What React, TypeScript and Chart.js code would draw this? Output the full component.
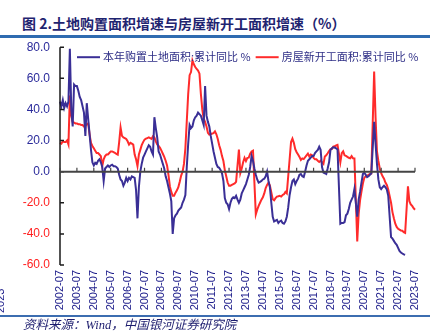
import React, { useEffect, useRef } from 'react';
import { Chart, registerables } from 'chart.js';

Chart.register(...registerables);

const TITLE = '图 2.土地购置面积增速与房屋新开工面积增速（%）';
const SOURCE = '资料来源：Wind，中国银河证券研究院';
const SERIES_NAMES = ['本年购置土地面积:累计同比 %', '房屋新开工面积:累计同比 %'];
const SERIES_COLORS = ['#3a2f96', '#ff2b2b'];

// Monthly categories, 2002-07 .. 2023-07
const START_YEAR = 2002;
const START_MONTH = 7;
const MONTH_COUNT = 253;
const months: string[] = [];
for (let i = 0; i < MONTH_COUNT; i++) {
  const t = START_YEAR * 12 + (START_MONTH - 1) + i;
  months.push(`${Math.floor(t / 12)}-${String((t % 12) + 1).padStart(2, '0')}`);
}

const Y_MIN = -60;
const Y_MAX = 80;
const Y_STEP = 20;

// 本年购置土地面积:累计同比 (%), rows = Jul..Jun
const landPurchase: (number | null)[] = [
  45, 42, 46, 41, 44, 42, 45, 79, 40, 29, 56, 55,
  55, 52, 48, 46, 42, 38, 23, 44, 34, 24, 14, 6,
  4, 5.7, 5, 7, 8, 6, 3, -6, 2, 3, 4, 3,
  4, 4.5, 3.5, 3.5, 3, 2, -2, -5, -6, -9, -7, -4,
  -6, -4, -5, -3, -3.5, -4, -12, -30, -10, 0, 5, 9,
  11, 13, 15, 17, 16, 13, 11, 35, 28, 22, 13, 11,
  8, 5, 2, -3, -6, -10, -14, -19, -40, -30, -28, -27,
  -25, -24, -23, -20, -18, -15, 3, 18, 30, 28, 29, 33,
  35, 36, 38, 37, 36, 33, 30, 55, 36, 32, 29, 23,
  18, 13, 9, 5, 3, 2.5, 1, -1, -6, -17, -20, -21,
  -24, -20, -17.5, -16.5, -17, -15.5, -18, -20, -18, -14, -12, -10,
  -8, -5, -2, 3, 10, 7, 2, -2, -5, -7, -6.5, -6,
  -5, -4.5, -3, 0, -6, -10, -20, -29, -32, -31.5, -31, -33,
  -32, -31.5, -33, -33.5, -32, -29, -23, -15, -10, -6, -5, -8,
  -6, -4.5, -2, -1.5, -3, -3.5, 0, 4, 7, 8, 9, 10,
  10, 12, 13, 14, 16, 14, 3, -0.6, -1, -1.5, 2, 6,
  14, 15, 15.7, 15.5, 15, 14.2, null, -33.5, -33, -33, -32.5, -28,
  -27, -24, -20, -18, -16, -11.2, null, -29, -18, -13, -7, -1.5,
  -0.6, -2, -3.5, -3, -2, -1.1, null, 32, 18, 5, -5, -10,
  -11.2, -10, -9, -10, -11.5, -15.5, null, -42, -43, -44.5, -46, -47,
  -49, -51, -52, -52.6, -53.2, -53.4, null, null, null, null, null, null, null,
];

// 房屋新开工面积:累计同比 (%), rows = Jul..Jun
const newStarts: (number | null)[] = [
  18.5, 18, 19.5, 19, 19, 20, 17.4, 49, 36, 32, 31.5, 31,
  31, 30.5, 30.5, 30, 30, 29, 29.5, 30.5, 31, 24, 18.5, 16.5,
  15, 13.5, 12, 12, 11, 10, 3.6, 7.9, 10, 11, 11, 12,
  13, 13, 12.5, 12, 11.5, 11, 19, 28.4, 23, 22, 21.6, 21,
  19.5, 17.4, 18.5, 18, 17.4, 11, 8, 3.6, 11, 14, 17, 19,
  20.6, 21.2, 21.6, 22, 21.5, 21, 22.7, 22, 19.5, 17.5, 16.5, 15.3,
  13.5, 11.5, 9.5, 7, 4, -2, -9.5, -13, -15.5, -15.5, -13.5, -12,
  -10, -6.5, -2.5, 0, 5, 15, null, 50, 62, 64, 71.5, 69,
  67.3, 66, 65, 63, 50, 40, 34, 32, 29, 25, 23.8, 24,
  24.5, 24.8, 25.9, 24, 21, 17, 14, 10, 6.8, 1, -3, -7,
  -9, -9, -8.5, -8, -7.6, -6.5, null, 14.2, -1, 2, 6, 8.9,
  6.8, 8.9, 9, 11.5, 13, 13.5, null, -27.5, -24.5, -22, -20, -18,
  -16.5, -14, -10.5, -8.5, -7, -9, null, -17.7, -18.4, -17, -16, -15.8,
  -15.5, -16, -15, -14.5, -13, -14, null, 8, 19, 21.2, 18.5, 14.5,
  12.5, 11, 9.5, 7.5, 8.5, 8.1, null, 10.4, 11.6, 9.7, 11, 10.5,
  8.9, 7.9, 7.9, 7, 6.2, 7, null, 5, 9.7, 10.5, 11.8, 13.2,
  14.4, 14.5, 16.1, 16.3, 16.8, 17.2, null, 6, 11.9, 13.1, 10.5, 10.1,
  9.5, 8.9, 8.6, 10, 8.6, 8.5, null, -44.9, -27.2, -18.4, -12.8, -7.6,
  -4, -3, -2.5, -2, -1.5, -1.2, null, 64.3, 35, 13, 6.9, 2,
  -1, -3, -4.5, -7, -8.5, -11.4, null, -20, -26, -30, -33.5, -35.5,
  -36.7, -37.3, -37.8, -38, -38.9, -39.4, null, -9.4, -19, -21, -22, -23.5, -24.5,
];

const axisPlugin = {
  id: 'customAxes',
  afterDatasetsDraw(chart: any) {
    const { ctx, chartArea, scales } = chart;
    const x = scales.x;
    const y = scales.y;
    ctx.save();
    // vertical value axis with inner ticks
    ctx.strokeStyle = '#1a1a1a';
    ctx.lineWidth = 1.5;
    ctx.beginPath();
    ctx.moveTo(chartArea.left, chartArea.top);
    ctx.lineTo(chartArea.left, chartArea.bottom);
    y.ticks.forEach((t: any) => {
      const py = y.getPixelForValue(t.value);
      ctx.moveTo(chartArea.left, py);
      ctx.lineTo(chartArea.left + 4, py);
    });
    ctx.stroke();
    // category axis at zero with upward ticks
    const y0 = y.getPixelForValue(0);
    ctx.strokeStyle = '#444444';
    ctx.lineWidth = 2;
    ctx.beginPath();
    ctx.moveTo(chartArea.left, y0);
    ctx.lineTo(chartArea.right, y0);
    ctx.stroke();
    ctx.lineWidth = 1.2;
    ctx.beginPath();
    x.ticks.forEach((t: any) => {
      const px = x.getPixelForValue(t.value);
      ctx.moveTo(px, y0);
      ctx.lineTo(px, y0 - 4);
    });
    ctx.stroke();
    ctx.restore();
  },
};

const legendPlugin = {
  id: 'insideLegend',
  afterDraw(chart: any) {
    const { ctx, chartArea } = chart;
    ctx.save();
    ctx.font = '11px "Noto Sans CJK SC", sans-serif';
    ctx.textBaseline = 'middle';
    ctx.textAlign = 'left';
    let px = chartArea.left + 17;
    const py = chartArea.top + 10;
    chart.data.datasets.forEach((ds: any) => {
      ctx.strokeStyle = ds.borderColor;
      ctx.lineWidth = 2;
      ctx.beginPath();
      ctx.moveTo(px, py);
      ctx.lineTo(px + 23, py);
      ctx.stroke();
      px += 26;
      ctx.fillStyle = '#2e2e86';
      ctx.fillText(ds.label, px, py);
      px += ctx.measureText(ds.label).width + 5;
    });
    ctx.restore();
  },
};

function LineChart() {
  const ref = useRef<HTMLCanvasElement | null>(null);
  useEffect(() => {
    if (!ref.current) return;
    const chart = new Chart(ref.current, {
      type: 'line',
      data: {
        labels: months,
        datasets: [
          {
            label: SERIES_NAMES[0],
            data: landPurchase,
            borderColor: SERIES_COLORS[0],
            borderWidth: 2,
            pointRadius: 0,
            tension: 0,
            spanGaps: true,
          },
          {
            label: SERIES_NAMES[1],
            data: newStarts,
            borderColor: SERIES_COLORS[1],
            borderWidth: 2,
            pointRadius: 0,
            tension: 0,
            spanGaps: true,
          },
        ],
      },
      options: {
        responsive: false,
        animation: false,
        devicePixelRatio: 1,
        layout: { padding: { left: 0, right: 20, top: 15, bottom: 0 } },
        plugins: {
          legend: { display: false },
          tooltip: { enabled: false },
        },
        scales: {
          x: {
            type: 'category',
            offset: false,
            grid: { display: false, drawTicks: false },
            border: { display: false },
            afterBuildTicks: (axis: any) => {
              axis.ticks = axis.ticks.filter((t: any) => months[t.value].endsWith('-07'));
            },
            afterFit: (scale: any) => {
              scale.height = 51;
            },
            ticks: {
              autoSkip: false,
              minRotation: 90,
              maxRotation: 90,
              padding: 5,
              color: '#20208c',
              font: { family: '"Liberation Sans", Arial, sans-serif', size: 11 },
              callback: function (this: any, value: any) {
                return months[value as number];
              },
            },
          },
          y: {
            min: Y_MIN,
            max: Y_MAX,
            grid: { display: false, drawTicks: false },
            border: { display: false },
            afterFit: (scale: any) => {
              scale.width = 60;
            },
            ticks: {
              stepSize: Y_STEP,
              padding: 10,
              color: (c: any) => (c.tick && c.tick.value < 0 ? '#ff1f1f' : '#2b2b9b'),
              font: { family: '"Liberation Sans", Arial, sans-serif', size: 12 },
              callback: (v: any) => Number(v).toFixed(1),
            },
          },
        },
      },
      plugins: [axisPlugin, legendPlugin],
    });
    return () => chart.destroy();
  }, []);
  return (
    <canvas
      ref={ref}
      width={435}
      height={286}
      style={{ position: 'absolute', left: 0, top: 30, width: 435, height: 286 }}
    />
  );
}

export default function App() {
  return (
    <div
      style={{
        position: 'absolute',
        left: 0,
        top: 0,
        width: 435,
        height: 332,
        background: '#ffffff',
        overflow: 'hidden',
      }}
    >
      <div
        style={{
          position: 'absolute',
          left: 22,
          top: 13,
          fontFamily: '"Noto Sans CJK SC", sans-serif',
          fontSize: 14,
          fontWeight: 700,
          lineHeight: '20px',
          color: '#1f2470',
          whiteSpace: 'nowrap',
        }}
      >
        {TITLE}
      </div>
      <div style={{ position: 'absolute', left: 0, top: 35, width: 430, height: 2.5, background: '#2f6bb0' }} />
      <LineChart />
      <div style={{ position: 'absolute', left: 0, top: 315, width: 430, height: 1.5, background: '#3c6db0' }} />
      <div
        style={{
          position: 'absolute',
          left: -6,
          top: 313,
          width: 40,
          height: 12,
          lineHeight: '12px',
          fontFamily: '"Liberation Sans", Arial, sans-serif',
          fontSize: 11,
          color: '#20208c',
          transform: 'rotate(-90deg)',
          transformOrigin: 'left top',
          whiteSpace: 'nowrap',
        }}
      >
        2023
      </div>
      <div
        style={{
          position: 'absolute',
          left: 23,
          top: 318,
          fontFamily: '"Liberation Serif", "Noto Sans CJK SC", serif',
          fontStyle: 'italic',
          fontSize: 12.5,
          lineHeight: '15px',
          color: '#1c1c6e',
          whiteSpace: 'nowrap',
        }}
      >
        {SOURCE}
      </div>
    </div>
  );
}
